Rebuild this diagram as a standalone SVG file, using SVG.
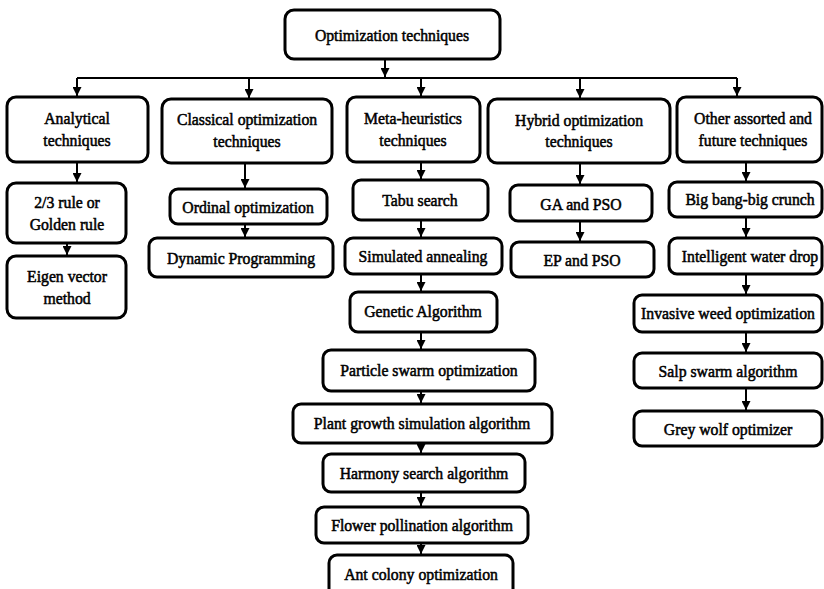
<svg xmlns="http://www.w3.org/2000/svg" width="824" height="589" viewBox="0 0 824 589">
<defs>
<style>
.box{fill:#fff;stroke:#000;stroke-width:3}
.t{font-family:"Liberation Serif","Times New Roman",serif;font-size:17.5px;fill:#000;text-anchor:middle;dominant-baseline:central;stroke:#000;stroke-width:0.55;transform-box:fill-box;transform-origin:center;transform:scaleX(0.9)}
.c{fill:none;stroke:#000;stroke-width:2}
</style>
<marker id="ah" markerUnits="userSpaceOnUse" markerWidth="10" markerHeight="9" refX="9" refY="4.5" orient="auto">
<path d="M0,0 L9,4.5 L0,9 Z" fill="#000"/>
</marker>
</defs>
<rect width="824" height="589" fill="#fff"/>
<g id="connectors">
<path class="c" d="M385,59 V77" marker-end="url(#ah)"/>
<path class="c" d="M77,78 H737"/>
<path class="c" d="M77,78 V96" marker-end="url(#ah)"/>
<path class="c" d="M249,78 V98" marker-end="url(#ah)"/>
<path class="c" d="M421,78 V96" marker-end="url(#ah)"/>
<path class="c" d="M580,78 V98" marker-end="url(#ah)"/>
<path class="c" d="M737,78 V96" marker-end="url(#ah)"/>
<path class="c" d="M77,162 V182" marker-end="url(#ah)"/>
<path class="c" d="M67,243 V255" marker-end="url(#ah)"/>
<path class="c" d="M245,163 V188" marker-end="url(#ah)"/>
<path class="c" d="M245,224 V237" marker-end="url(#ah)"/>
<path class="c" d="M421,162 V179" marker-end="url(#ah)"/>
<path class="c" d="M421,220 V237" marker-end="url(#ah)"/>
<path class="c" d="M421,274 V291" marker-end="url(#ah)"/>
<path class="c" d="M421,332 V349" marker-end="url(#ah)"/>
<path class="c" d="M421,391 V403" marker-end="url(#ah)"/>
<path class="c" d="M421,443 V453" marker-end="url(#ah)"/>
<path class="c" d="M421,492 V506" marker-end="url(#ah)"/>
<path class="c" d="M421,543 V554" marker-end="url(#ah)"/>
<path class="c" d="M580,163 V184" marker-end="url(#ah)"/>
<path class="c" d="M580,221 V241" marker-end="url(#ah)"/>
<path class="c" d="M746,162 V181" marker-end="url(#ah)"/>
<path class="c" d="M746,217 V237" marker-end="url(#ah)"/>
<path class="c" d="M746,274 V294" marker-end="url(#ah)"/>
<path class="c" d="M746,332 V352" marker-end="url(#ah)"/>
<path class="c" d="M746,388 V410" marker-end="url(#ah)"/>
</g>
<g id="root"><rect class="box" x="285" y="10" width="215" height="49" rx="9"/><text class="t" x="392" y="35">Optimization techniques</text></g>
<g id="analytical"><rect class="box" x="7" y="97" width="141" height="65" rx="9"/><text class="t" x="77" y="118">Analytical</text><text class="t" x="77" y="140">techniques</text></g>
<g id="classical"><rect class="box" x="162" y="99" width="170" height="64" rx="9"/><text class="t" x="247" y="119">Classical optimization</text><text class="t" x="247" y="141">techniques</text></g>
<g id="meta"><rect class="box" x="347" y="97" width="133" height="65" rx="9"/><text class="t" x="413" y="118">Meta-heuristics</text><text class="t" x="413" y="140">techniques</text></g>
<g id="hybrid"><rect class="box" x="488" y="99" width="182" height="64" rx="9"/><text class="t" x="579" y="120">Hybrid optimization</text><text class="t" x="579" y="141">techniques</text></g>
<g id="other"><rect class="box" x="677" y="97" width="145" height="65" rx="9"/><text class="t" x="753" y="118">Other assorted and</text><text class="t" x="753" y="140">future techniques</text></g>
<g id="golden"><rect class="box" x="7" y="183" width="119" height="60" rx="9"/><text class="t" x="67" y="202">2/3 rule or</text><text class="t" x="67" y="224">Golden rule</text></g>
<g id="eigen"><rect class="box" x="7" y="256" width="119" height="62" rx="9"/><text class="t" x="67" y="276">Eigen vector</text><text class="t" x="67" y="298">method</text></g>
<g id="ordinal"><rect class="box" x="170" y="189" width="157" height="35" rx="8"/><text class="t" x="248" y="207">Ordinal optimization</text></g>
<g id="dynamic"><rect class="box" x="149" y="238" width="184" height="39" rx="8"/><text class="t" x="241" y="258">Dynamic Programming</text></g>
<g id="tabu"><rect class="box" x="353" y="180" width="135" height="40" rx="8"/><text class="t" x="420" y="200">Tabu search</text></g>
<g id="sa"><rect class="box" x="345" y="238" width="157" height="36" rx="8"/><text class="t" x="423" y="256">Simulated annealing</text></g>
<g id="ga"><rect class="box" x="350" y="292" width="147" height="40" rx="8"/><text class="t" x="423" y="311">Genetic Algorithm</text></g>
<g id="pso"><rect class="box" x="323" y="350" width="212" height="41" rx="8"/><text class="t" x="429" y="370">Particle swarm optimization</text></g>
<g id="pgsa"><rect class="box" x="293" y="404" width="259" height="39" rx="8"/><text class="t" x="422" y="423">Plant growth simulation algorithm</text></g>
<g id="hsa"><rect class="box" x="323" y="454" width="202" height="38" rx="8"/><text class="t" x="424" y="473">Harmony search algorithm</text></g>
<g id="fpa"><rect class="box" x="316" y="507" width="212" height="36" rx="8"/><text class="t" x="422" y="525">Flower pollination algorithm</text></g>
<g id="aco"><rect class="box" x="329" y="555" width="184" height="44" rx="8"/><text class="t" x="421" y="574">Ant colony optimization</text></g>
<g id="gapso"><rect class="box" x="510" y="185" width="142" height="36" rx="8"/><text class="t" x="581" y="204">GA and PSO</text></g>
<g id="eppso"><rect class="box" x="511" y="242" width="143" height="35" rx="8"/><text class="t" x="582" y="260">EP and PSO</text></g>
<g id="bbbc"><rect class="box" x="669" y="182" width="153" height="35" rx="8"/><text class="t" x="750" y="199">Big bang-big crunch</text></g>
<g id="iwd"><rect class="box" x="669" y="238" width="153" height="36" rx="8"/><text class="t" x="750" y="256">Intelligent water drop</text></g>
<g id="iwo"><rect class="box" x="634" y="295" width="188" height="37" rx="8"/><text class="t" x="728" y="313">Invasive weed optimization</text></g>
<g id="ssa"><rect class="box" x="634" y="353" width="188" height="35" rx="8"/><text class="t" x="728" y="371">Salp swarm algorithm</text></g>
<g id="gwo"><rect class="box" x="634" y="411" width="188" height="35" rx="8"/><text class="t" x="728" y="429">Grey wolf optimizer</text></g>
</svg>
